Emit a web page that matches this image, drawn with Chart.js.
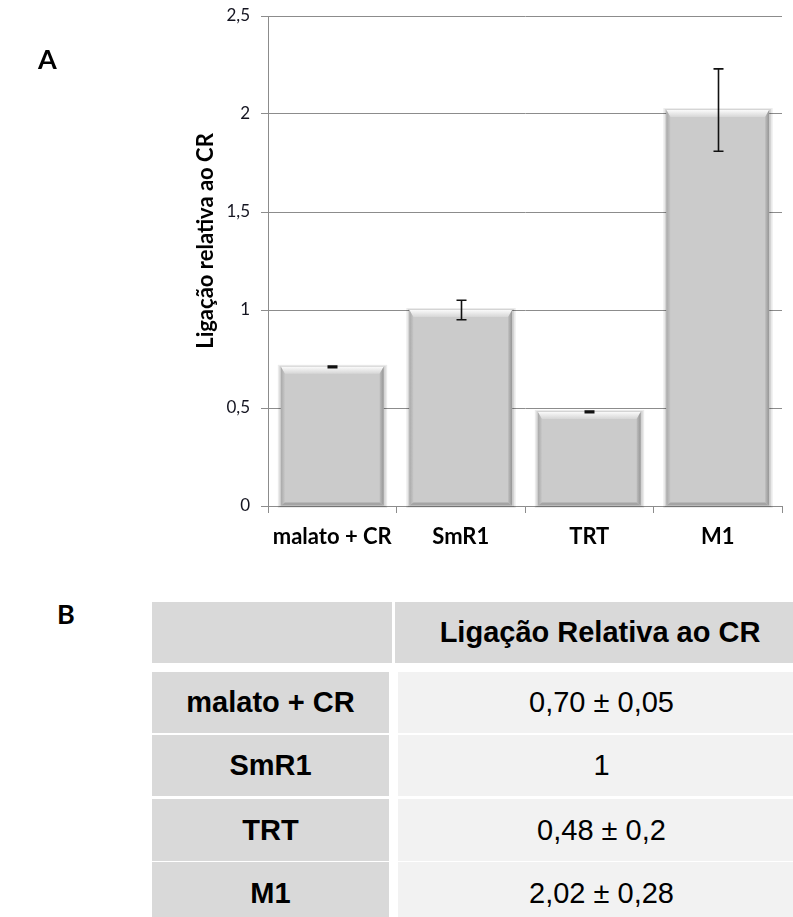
<!DOCTYPE html>
<html>
<head>
<meta charset="utf-8">
<script src="https://cdn.jsdelivr.net/npm/chart.js@4.4.1/dist/chart.umd.min.js"></script>
<style>
  html, body { margin: 0; padding: 0; background: #fff; width: 793px; height: 917px; overflow: hidden; }
  #wrap { position: relative; width: 793px; height: 917px; }
  #chart { position: absolute; left: 0; top: 0; }
  .lbl { position: absolute; font-family: Lato, "Open Sans", sans-serif; font-weight: 700; font-size: 27px; line-height: 1.2; color: #000; }
  .cell { position: absolute; display: flex; align-items: center; justify-content: center;
          font-family: "Liberation Sans", Arial, sans-serif; font-size: 29px; color: #000; white-space: nowrap; }
  .hd { background: #d9d9d9; font-weight: 700; }
  .c1 { background: #d9d9d9; font-weight: 700; }
  .c2 { background: #f2f2f2; font-weight: 400; }
</style>
</head>
<body>
<div id="wrap">
  <canvas id="chart" width="793" height="565" style="width:793px;height:565px"></canvas>
  <div class="lbl" style="left:38px;top:43px;">A</div>
  <div class="lbl" style="left:57px;top:598px;">B</div>
  <div id="table"></div>
</div>
<script>
// ---- data ----
const categories = ['malato + CR', 'SmR1', 'TRT', 'M1'];
const values = [0.71, 1.0, 0.48, 2.02];
const errors = [0.004, 0.05, 0.004, 0.21];
const yTickLabels = ['0', '0,5', '1', '1,5', '2', '2,5'];
const yTitle = 'Ligação relativa ao CR';
const tableHeader = 'Ligação Relativa ao CR';
const tableValues = ['0,70 ± 0,05', '1', '0,48 ± 0,2', '2,02 ± 0,28'];

// ---- table (HTML) ----
(function buildTable() {
  const t = document.getElementById('table');
  const mk = (cls, l, tp, w, h, txt) => {
    const d = document.createElement('div');
    d.className = 'cell ' + cls;
    d.style.left = l + 'px'; d.style.top = tp + 'px';
    d.style.width = w + 'px'; d.style.height = h + 'px';
    d.textContent = txt;
    t.appendChild(d);
  };
  mk('hd', 152, 602, 240, 61, '');
  mk('hd', 395, 602, 410, 61, tableHeader);
  const rowTops = [672, 735, 799, 862];
  const rowH = [61, 61, 62, 62];
  categories.forEach((c, i) => {
    mk('c1', 152, rowTops[i], 237, rowH[i], c);
    mk('c2', 398, rowTops[i], 407, rowH[i], tableValues[i]);
  });
})();

// ---- plugins ----
const bevelPlugin = {
  id: 'bevel',
  beforeDatasetsDraw(chart) {
    const ctx = chart.ctx;
    const meta = chart.getDatasetMeta(0);
    ctx.save();
    meta.data.forEach(el => {
      const x0 = el.x - el.width / 2, x1 = el.x + el.width / 2;
      const y0 = el.y, yb = el.base;
      ctx.fillStyle = 'rgba(0,0,0,0.10)';
      ctx.fillRect(x0 - 1.5, y0 - 1, x1 - x0 + 3.5, yb - y0 + 2.5);
      ctx.fillStyle = 'rgba(0,0,0,0.08)';
      ctx.fillRect(x0 - 3, y0 - 2, x1 - x0 + 6.5, yb - y0 + 4.5);
    });
    ctx.restore();
  },
  afterDatasetsDraw(chart) {
    const ctx = chart.ctx;
    const meta = chart.getDatasetMeta(0);
    ctx.save();
    meta.data.forEach(el => {
      const x0 = el.x - el.width / 2, x1 = el.x + el.width / 2;
      const y0 = el.y, yb = el.base;
      const s = 4, tb = 7, bb = 3;
      // top bevel
      let g = ctx.createLinearGradient(0, y0, 0, y0 + tb);
      g.addColorStop(0, '#fafafa'); g.addColorStop(1, '#d6d6d6');
      ctx.fillStyle = g;
      ctx.beginPath(); ctx.moveTo(x0, y0); ctx.lineTo(x1, y0); ctx.lineTo(x1 - s, y0 + tb); ctx.lineTo(x0 + s, y0 + tb); ctx.closePath(); ctx.fill();
      // left bevel
      g = ctx.createLinearGradient(x0, 0, x0 + s, 0);
      g.addColorStop(0, '#a9a9a9'); g.addColorStop(1, '#c6c6c6');
      ctx.fillStyle = g;
      ctx.beginPath(); ctx.moveTo(x0, y0); ctx.lineTo(x0 + s, y0 + tb); ctx.lineTo(x0 + s, yb - bb); ctx.lineTo(x0, yb); ctx.closePath(); ctx.fill();
      // right bevel
      g = ctx.createLinearGradient(x1 - s, 0, x1, 0);
      g.addColorStop(0, '#bdbdbd'); g.addColorStop(1, '#959595');
      ctx.fillStyle = g;
      ctx.beginPath(); ctx.moveTo(x1, y0); ctx.lineTo(x1, yb); ctx.lineTo(x1 - s, yb - bb); ctx.lineTo(x1 - s, y0 + tb); ctx.closePath(); ctx.fill();
      // bottom bevel
      ctx.fillStyle = '#a4a4a4';
      ctx.beginPath(); ctx.moveTo(x0, yb); ctx.lineTo(x1, yb); ctx.lineTo(x1 - s, yb - bb); ctx.lineTo(x0 + s, yb - bb); ctx.closePath(); ctx.fill();
    });
    ctx.restore();
  }
};

const errorBarPlugin = {
  id: 'errorBars',
  afterDatasetsDraw(chart) {
    const ctx = chart.ctx;
    const yScale = chart.scales.y;
    const meta = chart.getDatasetMeta(0);
    ctx.save();
    ctx.strokeStyle = '#111';
    ctx.lineWidth = 1.6;
    meta.data.forEach((el, i) => {
      const v = values[i], e = errors[i];
      const yt = yScale.getPixelForValue(v + e);
      const ybm = yScale.getPixelForValue(v - e);
      const x = Math.round(el.x) + 0.5, cw = 5;
      ctx.beginPath();
      ctx.moveTo(x, yt); ctx.lineTo(x, ybm);
      ctx.moveTo(x - cw, yt); ctx.lineTo(x + cw, yt);
      ctx.moveTo(x - cw, ybm); ctx.lineTo(x + cw, ybm);
      ctx.stroke();
    });
    ctx.restore();
  }
};

const yTitlePlugin = {
  id: 'yTitle',
  afterDraw(chart) {
    const ctx = chart.ctx;
    ctx.save();
    ctx.translate(213, 241);
    ctx.rotate(-Math.PI / 2);
    ctx.font = '700 22px Lato, "Open Sans", sans-serif';
    ctx.fillStyle = '#000';
    ctx.textAlign = 'center';
    ctx.textBaseline = 'alphabetic';
    ctx.fillText(yTitle, 0, 0);
    ctx.restore();
  }
};

const gridColor = '#8c8c8c';

new Chart(document.getElementById('chart'), {
  type: 'bar',
  data: {
    labels: categories,
    datasets: [{
      data: values,
      backgroundColor: '#cbcbcb',
      borderWidth: 0,
      categoryPercentage: 0.8,
      barPercentage: 1.0
    }]
  },
  options: {
    responsive: false,
    animation: false,
    devicePixelRatio: 1,
    layout: { padding: { left: 0, right: 11, top: 16, bottom: 0 } },
    plugins: { legend: { display: false }, tooltip: { enabled: false } },
    scales: {
      x: {
        offset: true,
        grid: { display: true, drawOnChartArea: false, drawTicks: true, tickLength: 7, color: gridColor, offset: true },
        border: { display: true, color: gridColor, width: 1 },
        ticks: { color: '#000', padding: 11, font: { family: 'Lato, "Open Sans", sans-serif', weight: '700', size: 22 } },
        afterFit(scale) { scale.height = 59; scale.paddingLeft = 0; scale.paddingRight = 0; }
      },
      y: {
        min: 0, max: 2.5,
        ticks: {
          stepSize: 0.5,
          color: '#141420',
          padding: 11,
          font: { family: 'Lato, "Open Sans", sans-serif', size: 17 },
          callback: (v, i) => yTickLabels[i]
        },
        grid: { color: gridColor, tickLength: 7, drawTicks: true },
        border: { display: true, color: gridColor, width: 1 },
        afterFit(scale) { scale.width = 268; scale.paddingTop = 0; scale.paddingBottom = 0; }
      }
    }
  },
  plugins: [bevelPlugin, errorBarPlugin, yTitlePlugin]
});
</script>
</body>
</html>
